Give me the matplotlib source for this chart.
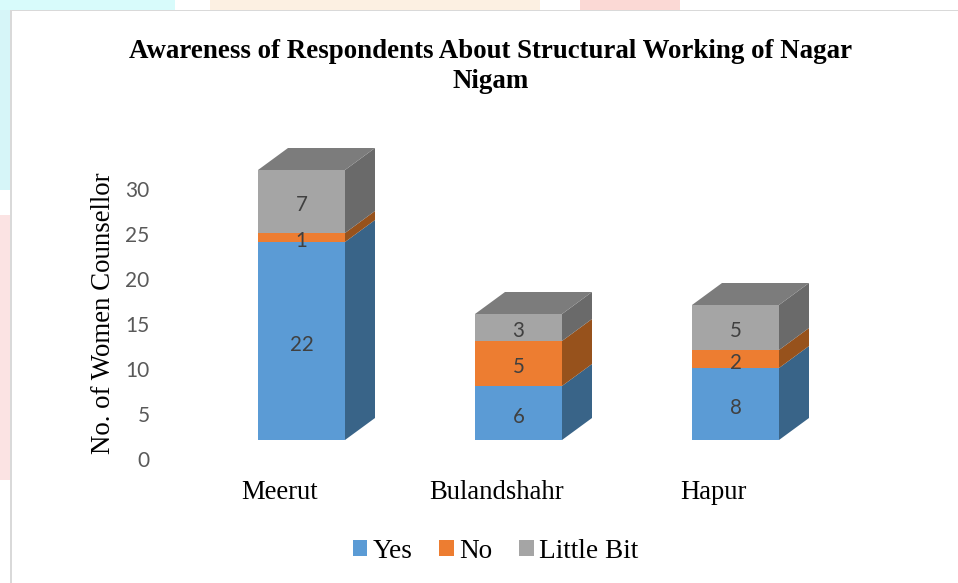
import matplotlib
matplotlib.use('Agg')
import matplotlib.pyplot as plt
import matplotlib.patches as patches
from matplotlib.transforms import ScaledTranslation

W = 958
H = 583

cities = ['Meerut', 'Bulandshahr', 'Hapur']
series_names = ['Yes', 'No', 'Little Bit']
yes_values = [22, 6, 8]
no_values = [1, 5, 2]
little_values = [7, 3, 5]
y_ticks = [0, 5, 10, 15, 20, 25, 30]

front_colors = ['#5B9BD5', '#ED7D31', '#A5A5A5']
side_colors = ['#396488', '#97521C', '#6A6A6A']
top_colors = ['#396488', '#97521C', '#7C7C7C']

BAR_WIDTH = 87 / 217
DEPTH_X = 30 / 217
DEPTH_Y = 22 / 9

fig = plt.figure(figsize=(W / 100, H / 100), dpi=100, facecolor='white')


def px_rect(x0, y0, x1, y1, color, **kw):
    # rectangle given in picture pixels, y going down
    r = patches.Rectangle((x0 / W, 1 - y1 / H), (x1 - x0) / W, (y1 - y0) / H,
                          transform=fig.transFigure, facecolor=color, edgecolor='none', **kw)
    fig.add_artist(r)
    return r


# Faint page watermark showing round the chart frame
px_rect(0, 0, 175, 10, '#D8FBFB')
px_rect(210, 0, 540, 10, '#FCF0E2')
px_rect(580, 0, 680, 10, '#FBD9D5')
px_rect(0, 10, 11, 190, '#D6F5F8')
px_rect(0, 215, 11, 480, '#FBE3E3')

# Chart frame, runs off the picture on the right and at the bottom
px_rect(10, 10, 958, 583, '#D9D9D9')
px_rect(12, 11, 958, 583, 'white')

left, right, top, bottom = 155, 840, 140, 440
ax = fig.add_axes([left / W, 1 - bottom / H, (right - left) / W, (bottom - top) / H])
ax.set_zorder(5)
ax.patch.set_alpha(0)
ax.set_xlim((left - 301.5) / 217, (right - 301.5) / 217)
ax.set_ylim(0, (bottom - top) / 9)
for s in ax.spines.values():
    s.set_visible(False)

serif = 'Liberation Serif'
positions = list(range(len(cities)))
stacks = [yes_values, no_values, little_values]

base = [0, 0, 0]
for k, vals in enumerate(stacks):
    ax.bar(positions, vals, BAR_WIDTH, bottom=base, color=front_colors[k], label=series_names[k], zorder=3)
    for i, v in enumerate(vals):
        x1 = positions[i] + BAR_WIDTH / 2
        y0 = base[i]
        y1 = base[i] + v
        ax.fill([x1, x1 + DEPTH_X, x1 + DEPTH_X, x1],
                [y0, y0 + DEPTH_Y, y1 + DEPTH_Y, y1], color=side_colors[k], lw=0, zorder=2)
        ax.annotate(str(v), (positions[i], y0 + v / 2), xytext=(0, -2.8), textcoords='offset points',
                    ha='center', va='center', family='Lato', fontsize=14.8, color='#404040', zorder=4)
        if k == len(stacks) - 1:
            x0 = positions[i] - BAR_WIDTH / 2
            ax.fill([x0, x1, x1 + DEPTH_X, x0 + DEPTH_X],
                    [y1, y1, y1 + DEPTH_Y, y1 + DEPTH_Y], color=top_colors[k], lw=0, zorder=2)
    base = [b + v for b, v in zip(base, vals)]

ax.set_yticks(y_ticks)
ax.set_xticks(positions)
ax.set_xticklabels(cities, family=serif, fontsize=19.2, color='black')
ax.set_yticklabels([str(t) for t in y_ticks], family='Lato', fontsize=15, color='#595959')
ax.tick_params(axis='both', length=0)
ax.tick_params(axis='x', pad=28.6)
ax.tick_params(axis='y', pad=4.0)

# tick labels sit away from the bars because of the 3D floor
down = ScaledTranslation(0, -18.9 / 100, fig.dpi_scale_trans)
back = ScaledTranslation(-22 / 100, 0, fig.dpi_scale_trans)
for lab in ax.get_yticklabels():
    lab.set_transform(lab.get_transform() + down)
for lab in ax.get_xticklabels():
    lab.set_transform(lab.get_transform() + back)

fig.text(491 / W, 1 - 51 / H, 'Awareness of Respondents About Structural Working of Nagar',
         ha='center', va='center', family=serif, weight='bold', fontsize=19.35, color='black')
fig.text(491 / W, 1 - 81 / H, 'Nigam', ha='center', va='center', family=serif, weight='bold',
         fontsize=19.35, color='black')
fig.text(103.5 / W, 1 - 313 / H, 'No. of Women Counsellor', rotation=90, ha='center', va='center',
         family=serif, fontsize=19.4, color='black')

fig.legend(loc='center', bbox_to_anchor=(495.5 / W, 1 - 551 / H), ncols=3, frameon=False,
           prop={'family': serif, 'size': 19.6}, handlelength=0.52, handleheight=0.52,
           handletextpad=0.2, columnspacing=1.0, labelcolor='black')

fig.savefig('out.png', dpi=100)
